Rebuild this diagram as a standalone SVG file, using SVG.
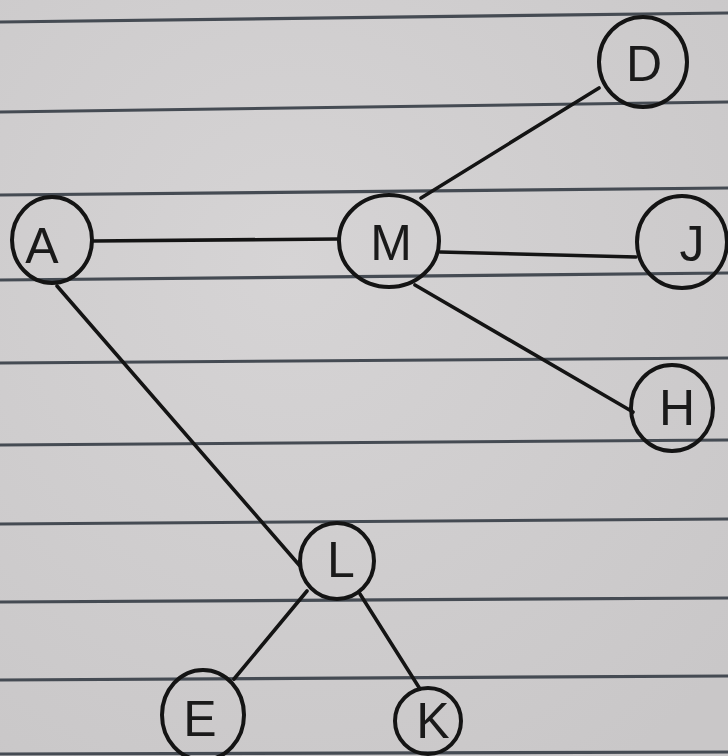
<svg xmlns="http://www.w3.org/2000/svg" width="728" height="756" viewBox="0 0 728 756">
<defs>
<style>
.rule{stroke:#454b53;stroke-width:3.2;fill:none}
.node ellipse{fill:none;stroke:#141414;stroke-width:4}
.node text{font-family:"Liberation Sans","DejaVu Sans",sans-serif;font-size:50px;fill:#1a1a1a;text-anchor:middle;dominant-baseline:central}
#edges line{stroke:#141414;stroke-width:3.6;stroke-linecap:round}
</style>
<radialGradient id="paper" cx="0.4" cy="0.35" r="0.8">
<stop offset="0" stop-color="#d6d4d5"/>
<stop offset="1" stop-color="#c9c7c8"/>
</radialGradient>
</defs>
<rect width="728" height="756" fill="url(#paper)"/>
<g id="rules">
<line class="rule" x1="0" y1="22" x2="728" y2="13"/>
<line class="rule" x1="0" y1="112" x2="728" y2="102"/>
<line class="rule" x1="0" y1="195" x2="728" y2="188"/>
<line class="rule" x1="0" y1="280" x2="728" y2="273"/>
<line class="rule" x1="0" y1="363" x2="728" y2="358"/>
<line class="rule" x1="0" y1="445" x2="728" y2="440"/>
<line class="rule" x1="0" y1="524" x2="728" y2="519"/>
<line class="rule" x1="0" y1="602" x2="728" y2="598"/>
<line class="rule" x1="0" y1="680" x2="728" y2="676"/>
<line class="rule" x1="0" y1="754" x2="728" y2="752"/>
</g>
<g id="edges">
<line x1="93" y1="241" x2="339" y2="239"/>
<line x1="421" y1="198" x2="599" y2="88"/>
<line x1="440" y1="252" x2="636" y2="257"/>
<line x1="415" y1="285" x2="633" y2="412"/>
<line x1="57" y1="286" x2="300" y2="566"/>
<line x1="307" y1="591" x2="234" y2="679"/>
<line x1="360" y1="594" x2="420" y2="689"/>
</g>
<g id="node-D" class="node"><ellipse cx="643" cy="62" rx="44" ry="45"/><text x="644" y="64">D</text></g>
<g id="node-A" class="node"><ellipse cx="52" cy="240" rx="40" ry="43"/><text x="42" y="246">A</text></g>
<g id="node-M" class="node"><ellipse cx="389" cy="241" rx="50" ry="46"/><text x="391" y="243">M</text></g>
<g id="node-J" class="node"><ellipse cx="682" cy="242" rx="45" ry="46"/><text x="692" y="244">J</text></g>
<g id="node-H" class="node"><ellipse cx="672" cy="408" rx="41" ry="43"/><text x="677" y="408">H</text></g>
<g id="node-L" class="node"><ellipse cx="337" cy="561" rx="37" ry="38"/><text x="341" y="560">L</text></g>
<g id="node-E" class="node"><ellipse cx="203" cy="715" rx="41" ry="45"/><text x="200" y="719">E</text></g>
<g id="node-K" class="node"><ellipse cx="428" cy="721" rx="33" ry="33"/><text x="433" y="721">K</text></g>
</svg>
